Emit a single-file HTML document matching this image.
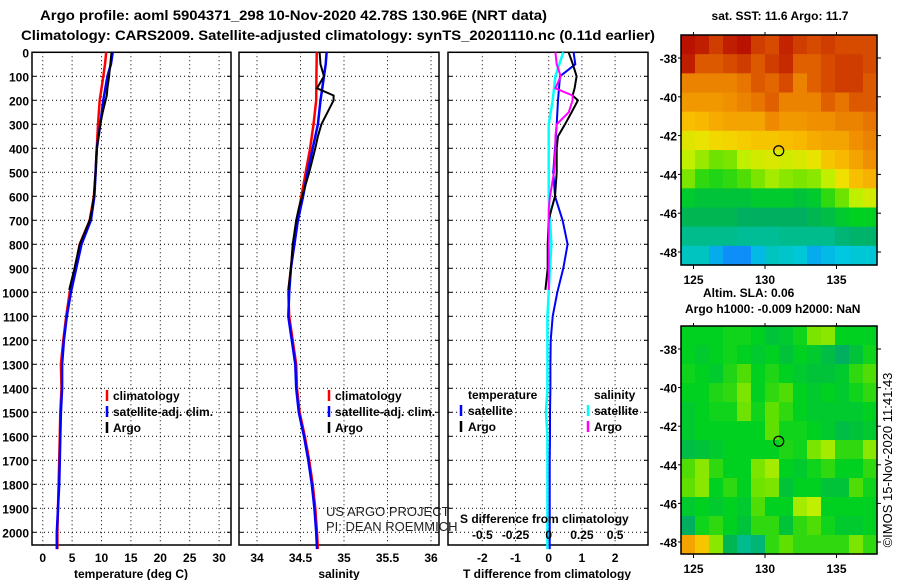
<!DOCTYPE html>
<html><head><meta charset="utf-8"><style>
body{margin:0;background:#fff;}
svg{display:block;font-family:"Liberation Sans",sans-serif;}
.t{font-weight:bold;font-size:12px;fill:#000;}
</style></head><body>
<svg id="chart" width="900" height="580" viewBox="0 0 900 580" xmlns="http://www.w3.org/2000/svg">
<rect width="900" height="580" fill="#fff"/>
<text x="40" y="20" font-size="14" font-weight="bold" textLength="507" lengthAdjust="spacingAndGlyphs">Argo profile: aoml 5904371_298 10-Nov-2020 42.78S 130.96E (NRT data)</text>
<text x="21" y="40" font-size="14" font-weight="bold" textLength="634" lengthAdjust="spacingAndGlyphs">Climatology: CARS2009. Satellite-adjusted climatology: synTS_20201110.nc (0.11d earlier)</text>
<g id="layer"></g>
</svg>
<script>
// ---- profile data ----
const depthsClim = [0,50,100,200,300,400,500,600,700,800,900,1000,1100,1200,1300,1400,1500,1600,1700,1800,1900,2000,2070];
const tempClim = [10.8,10.6,10.3,9.7,9.4,9.2,9.0,8.7,8.0,6.3,5.5,4.6,4.0,3.5,3.1,3.2,3.0,2.9,2.8,2.7,2.6,2.5,2.5];
const tempSat  = [11.9,11.6,11.0,10.3,9.8,9.2,9.0,8.8,8.2,6.6,5.7,4.8,4.1,3.6,3.3,3.3,3.1,3.0,2.9,2.8,2.6,2.4,2.4];
const depthsArgo = [0,50,100,150,180,200,250,300,350,400,500,600,650,700,800,900,990];
const tempArgo = [11.7,11.5,11.3,11.0,10.9,10.7,10.2,9.8,9.5,9.2,9.0,8.7,8.4,8.0,6.3,5.4,4.5];
const salClim = [34.686,34.685,34.683,34.68,34.65,34.61,34.56,34.51,34.46,34.42,34.39,34.36,34.37,34.41,34.45,34.46,34.49,34.55,34.60,34.64,34.67,34.69,34.70];
const salSat  = [34.80,34.79,34.77,34.73,34.70,34.64,34.58,34.53,34.47,34.43,34.39,34.37,34.36,34.40,34.44,34.45,34.48,34.54,34.59,34.63,34.66,34.68,34.69];
const salArgo = [34.72,34.73,34.77,34.69,34.88,34.88,34.81,34.74,34.70,34.67,34.60,34.52,34.48,34.45,34.41,34.39,34.36];
const tDiffSat = [0.75,0.8,0.34,0.28,0.24,0.19,0.14,0.19,0.42,0.57,0.44,0.26,0.12,0.06,0.05,0.05,0.04,0.04,0.03,0.03,0.03,0.03,0.03];
const sDiffSat = [0.11,0.08,0.05,0.03,0.0,0.0,0.0,0.0,0.01,0.02,0.01,0.0,-0.01,-0.01,-0.01,-0.01,-0.02,-0.01,-0.01,-0.01,-0.01,-0.01,-0.01];
const tDiffArgo = [0.6,0.73,0.84,0.78,0.72,0.88,0.69,0.49,0.28,0.24,0.24,0.19,0.09,0.0,-0.03,-0.03,-0.1];
const sDiffArgo = [0.05,0.06,0.09,0.05,0.18,0.18,0.15,0.06,0.05,0.05,0.04,0.01,0.0,0.0,0.0,0.0,0.0];
const depthTicks = [0,100,200,300,400,500,600,700,800,900,1000,1100,1200,1300,1400,1500,1600,1700,1800,1900,2000];
const tempTicks = [0,5,10,15,20,25,30];
const salTicks = [34,34.5,35,35.5,36];
const tdTicks = [-2,-1,0,1,2];
const sdTickLabels = ["-0.5","-0.25","0","0.25","0.5"];
const sdTicks = [-0.5,-0.25,0,0.25,0.5];
// ---- map data (colormap value 0..1, rows north->south) ----
const sstGrid = [
[0.97,0.95,0.9,0.95,0.97,0.9,0.88,0.94,0.9,0.88,0.9,0.88,0.88,0.88],
[0.95,0.86,0.86,0.88,0.9,0.86,0.9,0.93,0.85,0.85,0.88,0.9,0.9,0.88],
[0.8,0.8,0.8,0.8,0.82,0.86,0.84,0.88,0.8,0.85,0.88,0.9,0.9,0.86],
[0.77,0.77,0.77,0.78,0.8,0.82,0.85,0.8,0.8,0.8,0.85,0.82,0.86,0.86],
[0.71,0.72,0.74,0.75,0.75,0.75,0.79,0.77,0.77,0.78,0.78,0.8,0.8,0.82],
[0.64,0.65,0.67,0.68,0.69,0.7,0.7,0.71,0.72,0.74,0.75,0.75,0.78,0.8],
[0.6,0.57,0.54,0.55,0.6,0.62,0.63,0.62,0.63,0.65,0.7,0.72,0.75,0.78],
[0.55,0.5,0.49,0.5,0.52,0.55,0.58,0.56,0.55,0.56,0.6,0.66,0.71,0.73],
[0.46,0.45,0.45,0.45,0.45,0.46,0.46,0.46,0.45,0.46,0.5,0.54,0.6,0.62],
[0.43,0.43,0.43,0.43,0.42,0.42,0.42,0.42,0.42,0.43,0.44,0.46,0.47,0.47],
[0.38,0.38,0.38,0.38,0.37,0.37,0.37,0.38,0.38,0.38,0.38,0.4,0.41,0.41],
[0.33,0.33,0.26,0.22,0.22,0.28,0.33,0.32,0.31,0.26,0.28,0.3,0.31,0.31]];
const slaGrid = [
[.47,.47,.47,.48,.48,.47,.45,.46,.48,.55,.56,.47,.47,.47],
[.47,.46,.47,.48,.47,.46,.47,.45,.47,.46,.44,.42,.45,.48],
[.48,.47,.46,.49,.52,.47,.49,.47,.46,.45,.45,.46,.5,.52],
[.47,.47,.49,.5,.55,.47,.5,.52,.47,.46,.47,.46,.48,.5],
[.46,.47,.48,.48,.54,.48,.53,.5,.47,.46,.46,.46,.46,.47],
[.46,.47,.47,.47,.47,.47,.53,.48,.48,.47,.46,.44,.45,.46],
[.44,.45,.46,.47,.47,.47,.47,.49,.48,.55,.58,.5,.5,.56],
[.52,.56,.5,.47,.47,.55,.58,.47,.46,.48,.5,.47,.47,.5],
[.53,.56,.47,.5,.47,.54,.55,.45,.47,.47,.45,.45,.52,.48],
[.46,.47,.46,.47,.46,.52,.47,.47,.58,.6,.47,.47,.47,.47],
[.42,.48,.5,.47,.45,.5,.5,.45,.5,.52,.48,.46,.46,.47],
[.75,.7,.56,.43,.38,.4,.5,.53,.5,.5,.5,.5,.55,.5]];
const latTicks = [-38,-40,-42,-44,-46,-48];
const lonTicks = [125,130,135];
const argoLon = 130.96, argoLat = -42.78;

const NS="http://www.w3.org/2000/svg";
const L=document.getElementById('layer');
function mk(tag,attrs,parent){const e=document.createElementNS(NS,tag);for(const k in attrs)e.setAttribute(k,attrs[k]);(parent||L).appendChild(e);return e;}
function txt(x,y,s,anchor,cls,parent){const e=mk('text',{x:x,y:y,'text-anchor':anchor||'start','class':cls||'t'},parent);e.textContent=s;return e;}

const Y0=52.3, YS=0.24, PB=545;
const yD=d=>Y0+d*YS;
const xT=v=>42.7+v*5.88;
const xS=v=>257+(v-34)*87;
const xTD=v=>548.7+v*33.2;
const xSD=v=>548.7+v*133;

function panel(name,x0,x1,xticks,xfn,labels,depthLabels){
  const g=mk('g',{});
  
  
  depthTicks.forEach(d=>{const l=mk('line',{x1:x0,x2:x1,y1:yD(d),y2:yD(d),stroke:'#000','stroke-dasharray':'1,3','stroke-width':1},g);
    
    if(depthLabels){const t=txt(29,yD(d)+5,String(d),'end','t',g);}
    mk('line',{x1:x0,x2:x0+4,y1:yD(d),y2:yD(d),stroke:'#000'},g);mk('line',{x1:x1-4,x2:x1,y1:yD(d),y2:yD(d),stroke:'#000'},g);});
  xticks.forEach((v,i)=>{const x=xfn(v);const l=mk('line',{x1:x,x2:x,y1:Y0,y2:PB,stroke:'#000','stroke-dasharray':'1,3'},g);
    
    if(labels){const t=txt(x,562,labels[i],'middle','t',g);}});
  const r=mk('rect',{x:x0,y:Y0,width:x1-x0,height:PB-Y0,fill:'none',stroke:'#000','stroke-width':1.5},g);
  
  return g;
}
function line(depths,vals,xfn,color,name,w){
  const pts=vals.map((v,i)=>xfn(v).toFixed(1)+','+yD(depths[i]).toFixed(1)).join(' ');
  const p=mk('polyline',{points:pts,fill:'none',stroke:color,'stroke-width':w||2.5,'stroke-linejoin':'miter'});
  
  
}
panel('temperature-panel',32,231,tempTicks,xT,tempTicks.map(String),true);
panel('salinity-panel',239,439,salTicks,xS,salTicks.map(String),false);
panel('difference-panel',448,648,tdTicks,xTD,tdTicks.map(String),false);

line(depthsClim,tempClim,xT,'#f00','temp-climatology-line');
line(depthsClim,tempSat,xT,'#00f','temp-satellite-line');
line(depthsArgo,tempArgo,xT,'#000','temp-argo-line',2);
line(depthsClim,salClim,xS,'#f00','sal-climatology-line');
line(depthsClim,salSat,xS,'#00f','sal-satellite-line');
line(depthsArgo,salArgo,xS,'#000','sal-argo-line',2);
line(depthsClim,sDiffSat,xSD,'#0ff','sdiff-satellite-line');
line(depthsClim,tDiffSat,xTD,'#00f','tdiff-satellite-line',2);
line(depthsArgo,tDiffArgo,xTD,'#000','tdiff-argo-line',2);
line(depthsArgo,sDiffArgo,xSD,'#f0f','sdiff-argo-line',2);

// axis titles
let e;
e=txt(131,578,'temperature (deg C)','middle');e.setAttribute('font-size','13');
e=txt(339,578,'salinity','middle');e.setAttribute('font-size','13');
e=txt(547,578,'T difference from climatology','middle');e.setAttribute('font-size','13');
e=txt(460,523,'S difference from climatology','start');e.setAttribute('font-size','13');
sdTicks.forEach((v,i)=>{const t=txt(xTD(v*4),539,sdTickLabels[i],'middle');});

// legends
function legItem(mx,tx,y,color,label,name){
  const g=mk('g',{});
  
  
  mk('line',{x1:mx,x2:mx,y1:y-10,y2:y+1,stroke:color,'stroke-width':2.5},g);
  txt(tx,y,label,'start','t',g);
}
[['climatology','#f00'],['satellite-adj. clim.','#00f'],['Argo','#000']].forEach((it,i)=>{
  legItem(107,113,400+16*i,it[1],it[0],'legend-temp-'+i);
  legItem(329,335,400+16*i,it[1],it[0],'legend-sal-'+i);
});
e=txt(468,399,'temperature');
e=txt(594,399,'salinity');
legItem(461,468,415,'#00f','satellite','legend-tdiff-satellite');
legItem(461,468,431,'#000','Argo','legend-tdiff-argo');
legItem(588,594,415,'#0ff','satellite','legend-sdiff-satellite');
legItem(588,594,431,'#f0f','Argo','legend-sdiff-argo');
e=txt(326,516,'US ARGO PROJECT','start');e.setAttribute('class','');e.setAttribute('font-size','13');e.setAttribute('fill','#222');
e=txt(326,531,'PI: DEAN ROEMMICH','start');e.setAttribute('class','');e.setAttribute('font-size','13');e.setAttribute('fill','#222');

// colormap
const stops=[[0.2,[16,128,255]],[0.3,[0,200,224]],[0.36,[0,192,160]],[0.42,[0,176,96]],[0.47,[0,208,32]],[0.53,[96,224,0]],[0.6,[192,240,0]],[0.66,[240,224,0]],[0.72,[248,184,0]],[0.78,[240,144,0]],[0.85,[224,96,0]],[0.92,[200,48,0]],[1.0,[176,0,0]]];
function cmap(v){if(v<=stops[0][0])return 'rgb('+stops[0][1]+')';for(let i=1;i<stops.length;i++){if(v<=stops[i][0]){const a=stops[i-1],b=stops[i],f=(v-a[0])/(b[0]-a[0]);return 'rgb('+a[1].map((c,k)=>Math.round(c+(b[1][k]-c)*f)).join(',')+')';}}return 'rgb('+stops[stops.length-1][1]+')';}

function map(name,grid,x0,y0,x1,y1,lat38,lat48){
  const g=mk('g',{});
  
  
  const rows=grid.length,cols=grid[0].length,cw=(x1-x0)/cols,rh=(y1-y0)/rows;
  grid.forEach((row,r)=>row.forEach((v,c)=>{
    const cell=mk('rect',{x:(x0+c*cw).toFixed(2),y:(y0+r*rh).toFixed(2),width:(cw+0.6).toFixed(2),height:(rh+0.6).toFixed(2),fill:cmap(v)},g);
    
    
  }));
  const yL=lat=>lat38+(lat+38)/(-10)*(lat48-lat38);
  const xL=lon=>765+(lon-130)*14.3;
  const fr=mk('rect',{x:x0,y:y0,width:x1-x0,height:y1-y0,fill:'none',stroke:'#000','stroke-width':1.5},g);
  
  latTicks.forEach(l=>{const y=yL(l);mk('line',{x1:x0-3,x2:x0,y1:y,y2:y,stroke:'#000'},g);mk('line',{x1:x1,x2:x1+4,y1:y,y2:y,stroke:'#000'},g);
    const t=txt(x0-4,y+5,String(l),'end','t',g);});
  lonTicks.forEach(l=>{const x=xL(l);mk('line',{x1:x,x2:x,y1:y1,y2:y1+4,stroke:'#000'},g);mk('line',{x1:x,x2:x,y1:y0-3,y2:y0,stroke:'#000'},g);
    const t=txt(x,y1+19,String(l),'middle','t',g);});
  const m=mk('circle',{cx:xL(argoLon),cy:yL(argoLat),r:5,fill:'none',stroke:'#000','stroke-width':1.2},g);
  
}
map('sst-map',sstGrid,681,35,877,265,58,252);
map('sla-map',slaGrid,681,326,877,554,349,542);
e=txt(780,20,'sat. SST: 11.6 Argo: 11.7','middle');e.setAttribute('font-size','13');
e=txt(703,297,'Altim. SLA: 0.06','start');e.setAttribute('font-size','13');
e=txt(685,313,'Argo h1000: -0.009 h2000: NaN','start');e.setAttribute('font-size','13');
e=txt(0,0,'©IMOS 15-Nov-2020 11:41:43','middle');e.setAttribute('class','');e.setAttribute('font-size','13');e.setAttribute('transform','translate(892,460) rotate(-90)');
</script>
</body></html>
